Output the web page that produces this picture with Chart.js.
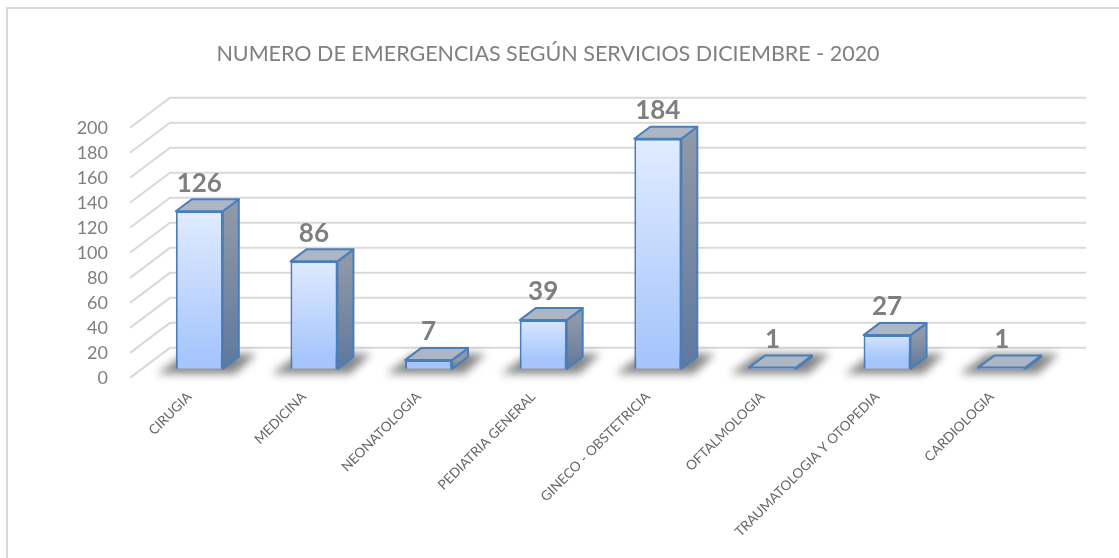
<!DOCTYPE html>
<html lang="es">
<head>
<meta charset="UTF-8">
<title>Emergencias</title>
<script src="https://cdn.jsdelivr.net/npm/chart.js@4"></script>
<style>
    html, body { margin: 0; padding: 0; background: #fff; }
    #wrap { width: 1119px; height: 558px; position: relative; }
</style>
</head>
<body>
<div id="wrap"><canvas id="chart" width="1119" height="558"></canvas></div>
<script>
const titleText = 'NUMERO DE EMERGENCIAS SEGÚN SERVICIOS DICIEMBRE - 2020';
const services = ['CIRUGIA', 'MEDICINA', 'NEONATOLOGIA', 'PEDIATRIA GENERAL', 'GINECO - OBSTETRICIA', 'OFTALMOLOGIA', 'TRAUMATOLOGIA Y OTOPEDIA', 'CARDIOLOGIA'];
const emergencies = [126, 86, 7, 39, 184, 1, 27, 1];

// fake 3d: the scale is the front edge of the floor, bars sit a bit behind it
const barLift = 9;
const depthX = 16, depthY = 12;
const wallX = 40, wallY = 30;
const gridEndX = 1086;

function barTopY(chart, value) {
    return chart.scales.y.getPixelForValue(value) - barLift;
}

// light gradient of the front face
function frontFill(context) {
    const chart = context.chart;
    if (!chart.chartArea) return '#c5d9fd';
    const g = chart.ctx.createLinearGradient(0, barTopY(chart, context.raw), 0, barTopY(chart, 0));
    g.addColorStop(0, '#e4eeff');
    g.addColorStop(1, '#a5c5fc');
    return g;
}

const wallsPlugin = {
    id: 'walls',
    beforeDraw(chart) {
        const { ctx } = chart;
        ctx.save();
        ctx.fillStyle = '#ffffff';
        ctx.fillRect(0, 0, chart.width, chart.height);
        // only top and left of the frame show in the picture
        ctx.strokeStyle = '#d9d9d9';
        ctx.lineWidth = 2;
        ctx.beginPath();
        ctx.moveTo(chart.width, 8);
        ctx.lineTo(7, 8);
        ctx.lineTo(7, chart.height);
        ctx.stroke();
        ctx.restore();
    },
    beforeDatasetsDraw(chart) {
        const { ctx, scales, chartArea } = chart;
        const y = scales.y;
        const startX = chartArea.left - 12;
        ctx.save();
        ctx.strokeStyle = '#d9d9d9';
        ctx.lineWidth = 2;
        y.ticks.forEach(t => {
            const py = y.getPixelForValue(t.value);
            ctx.beginPath();
            ctx.moveTo(startX, py);
            ctx.lineTo(startX + wallX, py - wallY);
            ctx.lineTo(gridEndX, py - wallY);
            ctx.stroke();
        });
        // floor shadows
        const meta = chart.getDatasetMeta(0);
        const base = barTopY(chart, 0);
        ctx.filter = 'blur(4px)';
        ctx.fillStyle = 'rgba(60,60,60,0.62)';
        meta.data.forEach(bar => {
            const cx = bar.x;
            ctx.beginPath();
            ctx.moveTo(cx - 42, base + 5);
            ctx.lineTo(cx + 36, base + 5);
            ctx.lineTo(cx + 57, base - 15);
            ctx.lineTo(cx - 14, base - 15);
            ctx.closePath();
            ctx.fill();
        });
        ctx.filter = 'none';
        ctx.restore();
    },
    beforeDatasetDraw(chart) {
        const { ctx } = chart;
        const meta = chart.getDatasetMeta(0);
        const base = barTopY(chart, 0);
        ctx.save();
        ctx.strokeStyle = '#4a7ebb';
        ctx.lineWidth = 2;
        ctx.lineJoin = 'round';
        meta.data.forEach((bar, i) => {
            const w = bar.width / 2;
            const l = bar.x - w, r = bar.x + w;
            const top = barTopY(chart, emergencies[i]);
            // side face
            const side = ctx.createLinearGradient(0, top, 0, base);
            side.addColorStop(0, '#8f98a6');
            side.addColorStop(1, '#5f789f');
            ctx.fillStyle = side;
            ctx.beginPath();
            ctx.moveTo(r, top);
            ctx.lineTo(r + depthX, top - depthY);
            ctx.lineTo(r + depthX, base - depthY);
            ctx.lineTo(r, base);
            ctx.closePath();
            ctx.fill();
            ctx.stroke();
            // top face
            ctx.fillStyle = '#adb6c4';
            ctx.beginPath();
            ctx.moveTo(l, top);
            ctx.lineTo(l + depthX, top - depthY);
            ctx.lineTo(r + depthX, top - depthY);
            ctx.lineTo(r, top);
            ctx.closePath();
            ctx.fill();
            ctx.stroke();
        });
        ctx.restore();
        ctx.save();
        ctx.translate(0, -barLift);
    },
    afterDatasetDraw(chart) {
        chart.ctx.restore();
    },
    afterDatasetsDraw(chart) {
        const { ctx } = chart;
        const meta = chart.getDatasetMeta(0);
        ctx.save();
        ctx.font = 'bold 26px Lato';
        ctx.fillStyle = '#7f7f7f';
        ctx.textAlign = 'center';
        ctx.textBaseline = 'middle';
        meta.data.forEach((bar, i) => {
            ctx.fillText(String(emergencies[i]), bar.x, barTopY(chart, emergencies[i]) - 28);
        });
        ctx.restore();
    }
};

new Chart(document.getElementById('chart'), {
    type: 'bar',
    data: {
        labels: services,
        datasets: [{
            data: emergencies,
            backgroundColor: frontFill,
            borderColor: '#4a7ebb',
            borderWidth: 2,
            barPercentage: 0.41,
            categoryPercentage: 1
        }]
    },
    plugins: [wallsPlugin],
    options: {
        responsive: false,
        animation: false,
        events: [],
        clip: false,
        layout: { padding: { left: 37, right: 60, top: 0, bottom: 15 } },
        plugins: {
            legend: { display: false },
            tooltip: { enabled: false },
            title: {
                display: true,
                text: titleText,
                color: '#7f7f7f',
                font: { family: 'Lato', size: 21.5, weight: 'normal' },
                padding: { top: 41, bottom: 61 }
            }
        },
        scales: {
            x: {
                // rotated labels would otherwise push the plot area around
                afterFit(scale) {
                    scale.paddingLeft = 0;
                    scale.paddingRight = 0;
                },
                grid: { display: false },
                border: { display: false },
                ticks: {
                    color: '#666666',
                    font: { family: 'Lato', size: 13.5 },
                    minRotation: 45,
                    maxRotation: 45,
                    padding: 3,
                    labelOffset: -10,
                    autoSkip: false
                }
            },
            y: {
                min: 0,
                max: 200,
                afterFit(scale) {
                    scale.width = 105;
                },
                grid: { display: false },
                border: { display: false },
                ticks: {
                    stepSize: 20,
                    color: '#7f7f7f',
                    font: { family: 'Lato', size: 18 },
                    padding: 26
                }
            }
        }
    }
});
</script>
</body>
</html>
